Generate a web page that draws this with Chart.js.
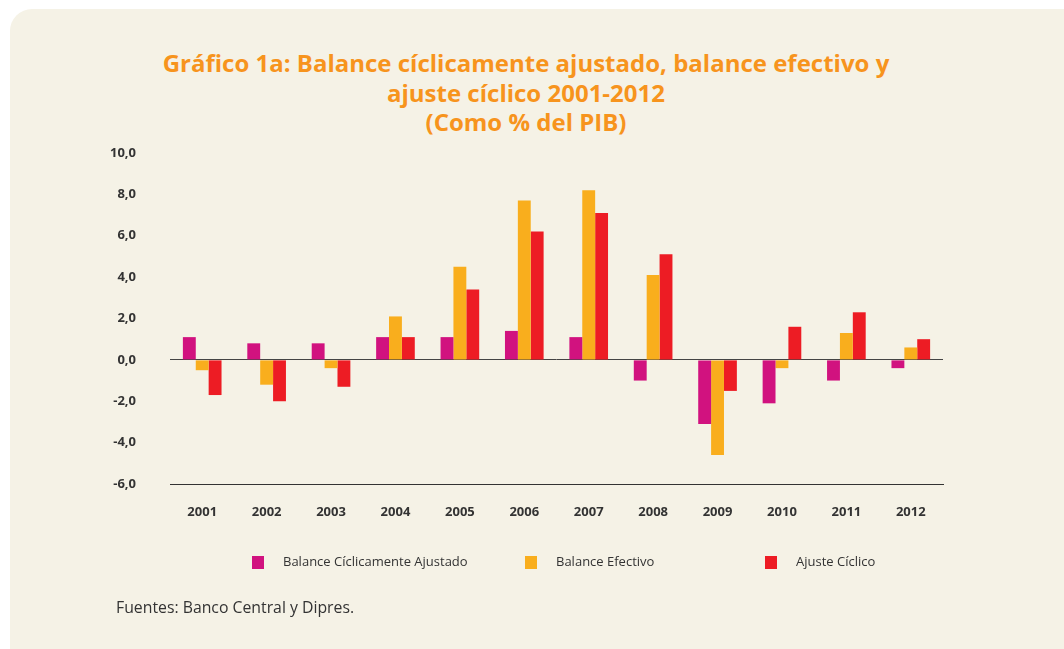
<!DOCTYPE html>
<html lang="es">
<head>
    <meta charset="UTF-8">
    <title>Gráfico 1a - Balance cíclicamente ajustado</title>
    <style>
        html, body { margin: 0; padding: 0; background: #ffffff; }
        body { width: 1064px; height: 649px; position: relative; overflow: hidden; }
        .card { position: absolute; left: 10px; top: 9px; width: 1080px; height: 680px; background: #f5f2e6; border-radius: 22px; }
        .titulo { position: absolute; left: 0; top: 48px; width: 1052px; text-align: center; color: #f7941d;
                  font: bold 24px "Open Sans", sans-serif; line-height: 29.5px; }
        #chartBox { position: absolute; left: 0; top: 0; width: 1064px; height: 649px; }
        .leyenda { position: absolute; top: 552px; font-family: "Open Sans", sans-serif; font-size: 13px; color: #333; }
        .leyenda span.box { position: absolute; left: 0; top: 4px; width: 12px; height: 13px; }
        .leyenda span.txt { position: absolute; left: 31px; top: 0; white-space: nowrap; }
        .fuente { position: absolute; left: 116px; top: 596px; font: 15.8px "Open Sans", sans-serif; color: #333; }
    </style>
</head>
<body>
    <div class="card"></div>
    <div class="titulo">Gráfico 1a: Balance cíclicamente ajustado, balance efectivo y<br>ajuste cíclico 2001-2012<br>(Como % del PIB)</div>
    <div id="chartBox"><canvas id="grafico"></canvas></div>
    <div id="leyendas"></div>
    <div class="fuente">Fuentes: Banco Central y Dipres.</div>

    <script src="https://cdn.jsdelivr.net/npm/chart.js@4/dist/chart.umd.min.js"></script>
    <script>
        // datos (% del PIB)
        const anios = ['2001', '2002', '2003', '2004', '2005', '2006', '2007', '2008', '2009', '2010', '2011', '2012'];
        const balanceCiclAjustado = [1.1, 0.8, 0.8, 1.1, 1.1, 1.4, 1.1, -1.0, -3.1, -2.1, -1.0, -0.4];
        const balanceEfectivo = [-0.5, -1.2, -0.4, 2.1, 4.5, 7.7, 8.2, 4.1, -4.6, -0.4, 1.3, 0.6];
        const ajusteCiclico = [-1.7, -2.0, -1.3, 1.1, 3.4, 6.2, 7.1, 5.1, -1.5, 1.6, 2.3, 1.0];
        const nombres = ['Balance Cíclicamente Ajustado', 'Balance Efectivo', 'Ajuste Cíclico'];
        const colores = ['#d1127f', '#f9ae1d', '#ed1c24'];
        const ejeY = { min: -6, max: 10, paso: 2 };

        const fuenteEje = { family: '"Open Sans", sans-serif', size: 13, weight: 'bold' };

        // leyenda en HTML (posiciones como en el original)
        const posLeyenda = [252, 525, 765];
        const cont = document.getElementById('leyendas');
        nombres.forEach((n, i) => {
            const d = document.createElement('div');
            d.className = 'leyenda';
            d.style.left = posLeyenda[i] + 'px';
            d.innerHTML = '<span class="box" style="background:' + colores[i] + '"></span><span class="txt">' + n + '</span>';
            cont.appendChild(d);
        });

        const series = [balanceCiclAjustado, balanceEfectivo, ajusteCiclico];

        new Chart(document.getElementById('grafico'), {
            type: 'bar',
            data: {
                labels: anios,
                datasets: series.map((s, i) => ({
                    label: nombres[i],
                    data: s,
                    backgroundColor: colores[i],
                    borderWidth: 0,
                    barPercentage: 1.0,
                    categoryPercentage: 0.6
                }))
            },
            options: {
                responsive: true,
                maintainAspectRatio: false,
                animation: false,
                layout: { padding: { top: 153, right: 121, bottom: 0, left: 0 } },
                plugins: {
                    legend: { display: false },
                    title: { display: false },
                    tooltip: { enabled: false }
                },
                scales: {
                    x: {
                        grid: { display: false },
                        border: { display: true, color: '#333', width: 1 },
                        ticks: { color: '#333', padding: 12, font: fuenteEje },
                        afterFit: s => { s.height = 165; }
                    },
                    y: {
                        min: ejeY.min,
                        max: ejeY.max,
                        ticks: {
                            stepSize: ejeY.paso,
                            padding: 34,
                            color: '#333',
                            font: fuenteEje,
                            callback: v => v.toFixed(1).replace('.', ',')
                        },
                        grid: {
                            drawTicks: false,
                            color: c => (c.tick && c.tick.value === 0) ? '#444' : 'rgba(0,0,0,0)'
                        },
                        border: { display: false },
                        afterFit: s => { s.width = 170; }
                    }
                }
            }
        });
    </script>
</body>
</html>
